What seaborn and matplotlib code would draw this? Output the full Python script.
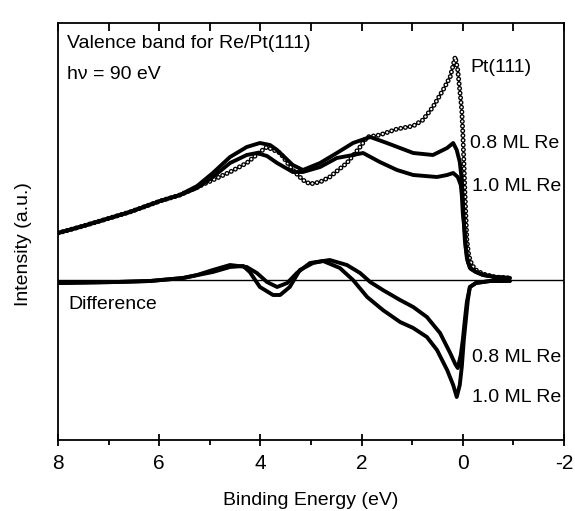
import matplotlib
matplotlib.use("Agg")
import matplotlib.pyplot as plt
import seaborn as sns
import pandas as pd

# ---------------- data ----------------
# Upper spectra: Pt(111) clean, 0.8 ML Re, 1.0 ML Re
pt_energy = [8.00, 7.57, 7.17, 6.58, 5.98, 5.59, 4.94, 4.60, 4.27, 4.01, 3.87, 3.61,
             3.36, 3.16, 3.02, 2.82, 2.63, 2.29, 2.03, 1.89, 1.64, 1.30, 0.98, 0.79,
             0.59, 0.39, 0.25, 0.15, 0.10, 0.06, 0.02, 0.00, -0.02, -0.04, -0.06,
             -0.08, -0.12, -0.18, -0.26, -0.40, -0.64, -0.93]
pt_intensity = [47, 53, 59, 68, 79, 85, 100, 108, 117, 128, 133, 127,
                110, 100, 96, 98, 103, 117, 133, 143, 145, 151, 154, 160,
                173, 190, 203, 223, 210, 190, 170, 147, 120, 90, 65,
                40, 24, 15, 10, 6, 3, 2]

re08_energy = [8.00, 7.57, 7.17, 6.58, 5.98, 5.59, 5.25, 4.94, 4.60, 4.27, 4.01, 3.81,
               3.67, 3.36, 3.16, 2.82, 2.49, 2.17, 1.83, 1.50, 1.24, 0.98, 0.59,
               0.31, 0.19, 0.12, 0.06, 0.02, 0.00, -0.02, -0.04, -0.08, -0.14,
               -0.26, -0.40, -0.64, -0.93]
re08_intensity = [47, 53, 59, 68, 79, 85, 94, 107, 123, 133, 137, 135,
                  130, 115, 110, 117, 127, 137, 143, 137, 132, 127, 125,
                  132, 137, 130, 118, 100, 80, 60, 40, 22, 12,
                  8, 5, 3, 2]

re10_energy = [8.00, 7.57, 7.17, 6.58, 5.98, 5.59, 5.25, 4.94, 4.60, 4.27, 4.07, 3.87,
               3.67, 3.36, 3.16, 2.82, 2.49, 2.17, 1.97, 1.64, 1.30, 0.98, 0.51,
               0.31, 0.19, 0.10, 0.04, 0.02, 0.00, -0.04, -0.06, -0.10, -0.16,
               -0.26, -0.40, -0.64, -0.93]
re10_intensity = [47, 53, 59, 68, 79, 85, 92, 103, 117, 125, 127, 124,
                  117, 108, 108, 113, 122, 125, 127, 118, 110, 105, 103,
                  105, 107, 103, 95, 85, 67, 47, 32, 18, 11,
                  8, 5, 3, 2]

# Difference spectra
d08_energy = [8.00, 6.83, 6.18, 5.53, 5.25, 4.94, 4.60, 4.27, 4.07, 3.87, 3.67, 3.47,
              3.28, 3.02, 2.63, 2.29, 2.03, 1.83, 1.58, 1.24, 0.98, 0.71, 0.45,
              0.25, 0.15, 0.10, 0.04, 0.00, -0.04, -0.08, -0.14, -0.26, -0.54, -0.93]
d08_intensity = [-3, -2, -1, 2, 5, 10, 15, 13, 7, -2, -7, -3,
                 7, 17, 20, 15, 7, -2, -10, -20, -27, -37, -53,
                 -73, -84, -88, -75, -60, -40, -22, -7, -3, -1, -1]

d10_energy = [8.00, 6.83, 6.18, 5.53, 4.94, 4.60, 4.34, 4.21, 4.01, 3.75, 3.61, 3.42,
              3.22, 2.96, 2.76, 2.43, 2.17, 1.89, 1.58, 1.24, 0.98, 0.71, 0.51,
              0.31, 0.19, 0.12, 0.06, 0.02, -0.02, -0.06, -0.10, -0.14, -0.26,
              -0.54, -0.93]
d10_intensity = [-3, -2, -1, 2, 8, 13, 14, 8, -7, -15, -15, -7,
                 10, 17, 19, 12, 0, -17, -30, -42, -48, -57, -70,
                 -90, -105, -117, -105, -87, -60, -40, -20, -7, -3,
                 -1, -1]

major_ticks = [8, 6, 4, 2, 0, -2]
minor_ticks = [7, 5, 3, 1, -1]
tick_labels = ["8", "6", "4", "2", "0", "-2"]

# ---------------- style ----------------
sns.set_theme(style="ticks")
plt.rcParams['font.family'] = ['Liberation Sans', 'DejaVu Sans']
plt.rcParams['lines.scale_dashes'] = False
plt.rcParams['text.color'] = 'black'
plt.rcParams['axes.labelcolor'] = 'black'
plt.rcParams['xtick.color'] = 'black'

fig = plt.figure(figsize=(5.75, 5.11), dpi=100)
ax = fig.add_axes([58 / 575, 1 - 440 / 511, 506 / 575, 417 / 511])

pt_df = pd.DataFrame({"E": pt_energy, "I": pt_intensity})
# open-circle look for Pt(111): black dots with white centres
dot = (0, (0.001, 3.4))
sns.lineplot(data=pt_df, x="E", y="I", ax=ax, color="black", lw=3.6,
             linestyle=dot, dash_capstyle="round", estimator=None, sort=False)
sns.lineplot(data=pt_df, x="E", y="I", ax=ax, color="white", lw=1.7,
             linestyle=dot, dash_capstyle="round", estimator=None, sort=False)

for e, i in [(re08_energy, re08_intensity), (re10_energy, re10_intensity),
             (d08_energy, d08_intensity), (d10_energy, d10_intensity)]:
    sns.lineplot(x=e, y=i, ax=ax, color="black", lw=2.8, estimator=None,
                 sort=False, solid_capstyle="round", solid_joinstyle="round")

ax.axhline(0, color="black", lw=1.0, zorder=1)

ax.set_xlim(8, -2)
ax.set_ylim(-160, 257)
ax.set_yticks([])
ax.set_xticks(major_ticks)
ax.set_xticklabels(tick_labels)
ax.set_xticks(minor_ticks, minor=True)
ax.tick_params(axis="x", which="major", direction="inout", length=8, width=1.3,
               labelsize=15, pad=6, bottom=True, top=False, color="black")
ax.tick_params(axis="x", which="minor", direction="out", length=3.5, width=1.3,
               bottom=True, top=False, color="black")

# inward ticks along the top edge
top = ax.twiny()
top.set_xlim(ax.get_xlim())
top.set_xticks(major_ticks + minor_ticks)
top.set_yticks([])
top.tick_params(axis="x", which="major", direction="in", length=5.5, width=1.3,
                top=True, bottom=False, labeltop=False, labelbottom=False,
                color="black")
for s in top.spines.values():
    s.set_visible(False)

for s in ax.spines.values():
    s.set_visible(True)
    s.set_color("black")
    s.set_linewidth(1.3)

ax.set_xlabel("Binding Energy (eV)", fontsize=14, labelpad=14)
ax.set_ylabel("Intensity (a.u.)", fontsize=14)
ax.yaxis.set_label_coords(-0.051, 0.47)

fs = 14
ax.text(0.018, 0.952, "Valence band for Re/Pt(111)", transform=ax.transAxes,
        fontsize=fs, ha="left", va="center")
ax.text(0.018, 0.877, "h\u03bd = 90 eV", transform=ax.transAxes,
        fontsize=fs, ha="left", va="center")
ax.text(0.814, 0.894, "Pt(111)", transform=ax.transAxes, fontsize=fs, ha="left", va="center")
ax.text(0.814, 0.712, "0.8 ML Re", transform=ax.transAxes, fontsize=fs, ha="left", va="center")
ax.text(0.818, 0.607, "1.0 ML Re", transform=ax.transAxes, fontsize=fs, ha="left", va="center")
ax.text(0.020, 0.326, "Difference", transform=ax.transAxes, fontsize=fs, ha="left", va="center")
ax.text(0.818, 0.199, "0.8 ML Re", transform=ax.transAxes, fontsize=fs, ha="left", va="center")
ax.text(0.818, 0.101, "1.0 ML Re", transform=ax.transAxes, fontsize=fs, ha="left", va="center")

fig.savefig("out.png", dpi=100)
